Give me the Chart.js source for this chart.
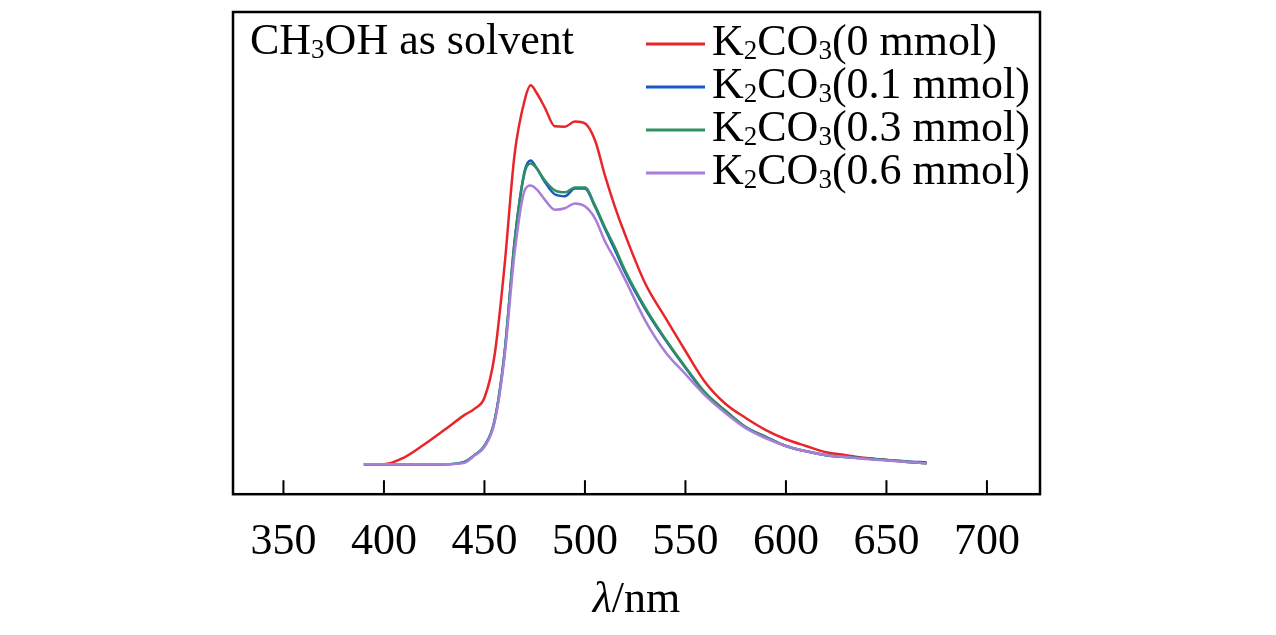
<!DOCTYPE html>
<html>
<head>
<meta charset="utf-8">
<script src="https://cdn.jsdelivr.net/npm/chart.js@4.4.0/dist/chart.umd.min.js"></script>
<style>
  html, body { margin: 0; padding: 0; background: #fff; }
  #wrap { width: 1276px; height: 635px; }
</style>
</head>
<body>
<div id="wrap"><canvas id="pl-chart" width="1276" height="635"></canvas></div>
<script>
// wavelength grid (nm)
let wavelengths = [390, 400, 410, 420, 430, 440, 445, 450, 455, 460, 465, 470, 473, 476, 480, 485, 490, 495,
    500, 505, 510, 515, 520, 530, 540, 550, 560, 570, 580, 590, 600, 610, 620, 630, 640, 650, 660, 670];

// PL intensity (arb. units, 0-100 = bottom-top of frame)
let k0_mmol = [6.2, 6.2, 7.6, 10.3, 13.3, 16.4, 17.7, 20.0, 28.7, 47.4, 70.5, 81.7, 84.8, 83.2, 80.2, 76.3, 76.2, 77.3,
    76.9, 73.4, 66.0, 59.5, 53.8, 43.7, 36.6, 29.7, 23.1, 18.7, 15.8, 13.3, 11.4, 10.0, 8.7, 8.1, 7.5, 7.1, 6.7, 6.4];
let k01_mmol = [6.2, 6.2, 6.2, 6.2, 6.2, 6.7, 8.1, 10.0, 15.2, 29.3, 52.4, 67.0, 69.2, 67.6, 64.8, 62.2, 61.8, 63.4,
    63.4, 59.6, 55.0, 50.6, 46.0, 38.4, 32.0, 26.2, 20.8, 17.2, 13.9, 11.9, 10.0, 8.9, 8.1, 7.7, 7.4, 7.1, 6.8, 6.6];
let k03_mmol = [6.2, 6.2, 6.2, 6.2, 6.2, 6.7, 8.1, 10.0, 15.2, 29.3, 52.4, 66.7, 68.6, 67.6, 65.1, 63.0, 62.6, 63.6,
    63.6, 59.9, 55.3, 51.1, 46.4, 38.7, 32.2, 26.4, 21.0, 17.3, 13.9, 11.9, 10.0, 8.9, 8.1, 7.7, 7.4, 7.1, 6.8, 6.4];
let k06_mmol = [6.2, 6.2, 6.2, 6.2, 6.2, 6.5, 8.0, 9.8, 14.8, 28.5, 50.0, 63.0, 64.0, 63.2, 61.1, 59.0, 59.3, 60.3,
    59.7, 57.2, 52.4, 48.6, 44.5, 36.0, 29.5, 24.9, 20.4, 16.8, 13.7, 11.6, 10.0, 8.9, 8.1, 7.7, 7.3, 7.0, 6.7, 6.4];

// "_x" marks a subscript character
let series_labels = ["K_2CO_3(0 mmol)", "K_2CO_3(0.1 mmol)", "K_2CO_3(0.3 mmol)", "K_2CO_3(0.6 mmol)"];
let series_colors = ["#e8262a", "#1a57c0", "#2e9060", "#a77fd8"];
let x_ticks = [350, 400, 450, 500, 550, 600, 650, 700];
let note_text = "CH_3OH as solvent";

const FONT = "'Liberation Serif', 'Times New Roman', serif";

function toPoints(values) {
    return wavelengths.map((w, i) => ({x: w, y: values[i]}));
}

// draw text with _x subscripts, returns width
function drawRich(ctx, str, x, y, size) {
    let pos = x;
    let i = 0;
    while (i < str.length) {
        if (str[i] === '_' && i + 1 < str.length) {
            ctx.font = Math.round(size * 0.62) + "px " + FONT;
            ctx.fillText(str[i + 1], pos, y + size * 0.2);
            pos += ctx.measureText(str[i + 1]).width;
            i += 2;
        } else {
            let j = i;
            while (j < str.length && str[j] !== '_') j++;
            let part = str.slice(i, j);
            ctx.font = size + "px " + FONT;
            ctx.fillText(part, pos, y);
            pos += ctx.measureText(part).width;
            i = j;
        }
    }
    return pos - x;
}

const framePlugin = {
    id: 'frame',
    afterDraw(chart) {
        const ctx = chart.ctx;
        const a = chart.chartArea;
        const xs = chart.scales.x;
        ctx.save();
        ctx.strokeStyle = '#000';
        ctx.lineWidth = 2.5;
        ctx.strokeRect(a.left, a.top, a.right - a.left, a.bottom - a.top);
        // inward ticks
        ctx.lineWidth = 2;
        x_ticks.forEach(t => {
            const px = xs.getPixelForValue(t);
            ctx.beginPath();
            ctx.moveTo(px, a.bottom);
            ctx.lineTo(px, a.bottom - 14);
            ctx.stroke();
        });

        ctx.fillStyle = '#000';
        ctx.textBaseline = 'middle';
        ctx.textAlign = 'left';
        // note, top left
        drawRich(ctx, note_text, a.left + 17, 42, 44);

        // legend
        series_labels.forEach((lab, i) => {
            const y = 44 + i * 43;
            ctx.strokeStyle = series_colors[i];
            ctx.lineWidth = 3;
            ctx.beginPath();
            ctx.moveTo(646, y);
            ctx.lineTo(705, y);
            ctx.stroke();
            ctx.fillStyle = '#000';
            drawRich(ctx, lab, 712, y - 1, 44);
        });

        // axis title: italic lambda + /nm
        const cx = (a.left + a.right) / 2;
        ctx.font = "italic 44px " + FONT;
        const w1 = ctx.measureText("λ").width;
        ctx.font = "44px " + FONT;
        const w2 = ctx.measureText("/nm").width;
        let sx = cx - (w1 + w2) / 2;
        ctx.font = "italic 44px " + FONT;
        ctx.fillText("λ", sx, 600);
        ctx.font = "44px " + FONT;
        ctx.fillText("/nm", sx + w1, 600);
        ctx.restore();
    }
};

const datasets = [k0_mmol, k01_mmol, k03_mmol, k06_mmol].map((vals, i) => ({
    label: series_labels[i],
    data: toPoints(vals),
    borderColor: series_colors[i],
    borderWidth: 2.5,
    pointRadius: 0,
    fill: false,
    cubicInterpolationMode: 'monotone',
    order: 3 - i
}));

new Chart(document.getElementById("pl-chart"), {
    type: 'line',
    data: {datasets: datasets},
    options: {
        responsive: false,
        animation: false,
        devicePixelRatio: 1,
        layout: {padding: {left: 233, right: 236, top: 12, bottom: 52}},
        plugins: {legend: {display: false}, tooltip: {enabled: false}},
        scales: {
            x: {
                type: 'linear',
                min: 324.9,
                max: 726.4,
                grid: {display: false},
                border: {display: false},
                afterBuildTicks: scale => { scale.ticks = x_ticks.map(v => ({value: v})); },
                ticks: {
                    color: '#000',
                    padding: 14,
                    maxRotation: 0,
                    font: {family: FONT, size: 44}
                }
            },
            y: {
                display: false,
                min: 0,
                max: 100
            }
        }
    },
    plugins: [framePlugin]
});
</script>
</body>
</html>
